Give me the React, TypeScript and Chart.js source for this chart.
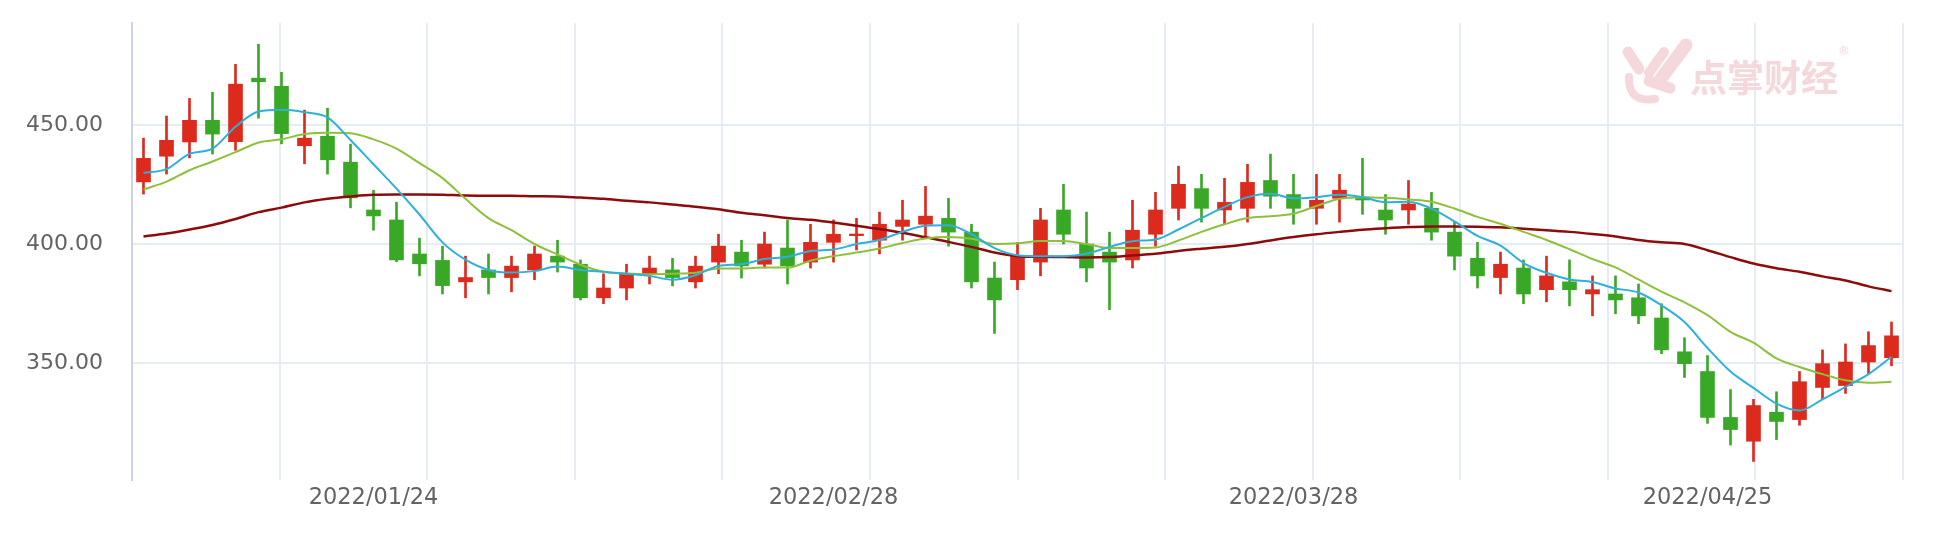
import React, { useEffect, useRef } from 'react';
import { Chart, registerables } from 'chart.js';

Chart.register(...registerables);

const dates = [
  '2022/01/10', '2022/01/11', '2022/01/12', '2022/01/13', '2022/01/14',
  '2022/01/17', '2022/01/18', '2022/01/19', '2022/01/20', '2022/01/21',
  '2022/01/24', '2022/01/25', '2022/01/26', '2022/01/27', '2022/01/28',
  '2022/02/07', '2022/02/08', '2022/02/09', '2022/02/10', '2022/02/11',
  '2022/02/14', '2022/02/15', '2022/02/16', '2022/02/17', '2022/02/18',
  '2022/02/21', '2022/02/22', '2022/02/23', '2022/02/24', '2022/02/25',
  '2022/02/28', '2022/03/01', '2022/03/02', '2022/03/03', '2022/03/04',
  '2022/03/07', '2022/03/08', '2022/03/09', '2022/03/10', '2022/03/11',
  '2022/03/14', '2022/03/15', '2022/03/16', '2022/03/17', '2022/03/18',
  '2022/03/21', '2022/03/22', '2022/03/23', '2022/03/24', '2022/03/25',
  '2022/03/28', '2022/03/29', '2022/03/30', '2022/03/31', '2022/04/01',
  '2022/04/06', '2022/04/07', '2022/04/08', '2022/04/11', '2022/04/12',
  '2022/04/13', '2022/04/14', '2022/04/15', '2022/04/18', '2022/04/19',
  '2022/04/20', '2022/04/21', '2022/04/22', '2022/04/25', '2022/04/26',
  '2022/04/27', '2022/04/28', '2022/04/29', '2022/05/05', '2022/05/06',
  '2022/05/09', '2022/05/10',
];

const xTickDates = ['2022/01/24', '2022/02/28', '2022/03/28', '2022/04/25'];

const opens = [
  426.1, 436.9, 442.9, 452.0, 443.0, 469.7, 466.3, 441.3, 445.3, 434.4,
  414.3, 410.1, 395.8, 393.1, 384.1, 389.1, 385.9, 389.1, 394.9, 391.5,
  377.4, 381.5, 387.5, 389.1, 384.1, 392.4, 396.6, 391.5, 398.3, 392.4,
  400.7, 403.5, 401.6, 407.4, 408.3, 410.8, 405.0, 385.7, 385.0, 392.4,
  414.3, 400.0, 396.6, 393.3, 404.1, 415.0, 423.3, 414.3, 415.0, 426.7,
  420.8, 415.0, 419.2, 419.7, 414.3, 414.3, 415.0, 405.0, 394.0, 385.9,
  389.9, 380.8, 384.1, 379.0, 379.0, 377.4, 368.9, 354.7, 346.4, 327.1,
  317.1, 329.3, 326.2, 339.7, 340.5, 350.4, 352.2,
];
const highs = [
  444.5, 453.8, 461.2, 463.8, 475.5, 484.0, 472.2, 456.3, 457.1, 442.0,
  422.6, 417.6, 402.5, 399.1, 394.9, 395.8, 394.9, 399.1, 401.6, 393.3,
  387.5, 391.5, 394.9, 394.0, 394.9, 404.1, 401.6, 405.0, 410.1, 408.3,
  410.1, 410.8, 413.4, 418.4, 424.2, 419.2, 408.3, 392.4, 400.7, 415.0,
  425.1, 413.4, 405.0, 418.4, 421.7, 432.7, 429.3, 427.6, 433.5, 437.8,
  429.3, 429.3, 429.3, 436.0, 420.8, 426.7, 421.7, 409.2, 400.7, 396.6,
  393.3, 394.9, 393.3, 386.6, 386.6, 383.2, 374.9, 360.6, 353.1, 338.8,
  334.7, 337.9, 346.4, 355.5, 358.0, 363.1, 367.2,
];
const lows = [
  421.0, 429.4, 436.2, 437.8, 439.4, 452.9, 442.1, 433.7, 429.4, 415.2,
  405.8, 392.6, 386.6, 379.0, 377.4, 379.0, 379.9, 385.0, 388.2, 376.5,
  374.9, 376.5, 383.2, 382.4, 381.5, 387.5, 385.7, 389.9, 383.2, 389.9,
  392.4, 397.5, 395.8, 401.6, 403.2, 399.1, 381.5, 362.4, 380.8, 386.6,
  400.0, 384.1, 372.4, 389.9, 399.1, 410.1, 409.2, 408.3, 409.2, 415.0,
  408.3, 408.3, 409.2, 412.5, 404.1, 408.3, 401.6, 389.1, 381.5, 379.0,
  374.9, 375.7, 374.0, 369.8, 370.7, 366.5, 353.9, 343.9, 324.6, 315.5,
  308.6, 317.8, 323.8, 334.7, 337.2, 345.5, 348.8,
];
const closes = [
  436.0, 443.6, 452.0, 446.2, 467.2, 468.2, 446.4, 444.5, 435.4, 419.4,
  411.8, 393.3, 391.7, 382.5, 385.9, 385.9, 390.7, 395.8, 392.4, 377.4,
  381.5, 387.5, 389.9, 385.9, 390.7, 399.1, 390.8, 400.0, 390.8, 400.7,
  404.1, 404.2, 408.3, 410.1, 411.7, 405.0, 384.1, 376.5, 394.9, 410.1,
  404.1, 389.9, 392.4, 405.8, 414.3, 425.1, 415.0, 417.5, 425.9, 420.1,
  415.0, 418.4, 422.6, 418.5, 410.1, 416.8, 405.0, 394.9, 386.6, 391.5,
  379.0, 386.6, 380.8, 380.8, 376.5, 369.8, 355.5, 349.7, 327.1, 322.0,
  332.1, 325.4, 342.1, 349.7, 350.4, 357.3, 361.4,
];

const ma5 = [
  429.9, 431.5, 437.9, 440.1, 449.3, 455.7, 456.4, 455.4, 453.2, 443.7,
  433.5, 423.3, 412.4, 400.7, 393.4, 389.1, 388.0, 388.6, 390.5, 389.1,
  388.3, 387.5, 386.6, 385.0, 386.9, 390.8, 391.5, 393.7, 394.6, 397.1,
  397.7, 400.0, 401.7, 405.1, 407.7, 407.9, 404.1, 398.3, 395.3, 394.9,
  394.9, 395.9, 398.8, 401.2, 401.9, 406.1, 410.9, 415.6, 419.7, 421.1,
  419.2, 419.7, 420.7, 419.7, 417.6, 417.8, 414.9, 409.5, 403.4, 399.3,
  392.0, 387.9, 385.1, 384.0, 381.3, 379.6, 374.2, 367.2, 356.3, 346.4,
  339.5, 332.9, 330.0, 334.7, 339.9, 345.3, 352.6,
];
const ma10 = [
  422.9, 426.2, 431.0, 434.7, 438.6, 442.7, 444.0, 446.2, 446.8, 446.6,
  444.0, 440.1, 434.0, 427.7, 419.0, 410.9, 405.8, 400.0, 395.6, 391.3,
  388.3, 387.6, 387.3, 387.5, 387.9, 389.7, 389.7, 390.1, 390.1, 393.0,
  394.9, 396.4, 398.1, 400.4, 402.3, 402.9, 402.2, 400.0, 400.3, 401.3,
  401.3, 400.0, 398.3, 398.3, 398.5, 401.5, 405.1, 408.3, 410.9, 411.7,
  412.7, 416.0, 419.0, 419.7, 419.4, 418.7, 417.8, 414.9, 411.4, 408.5,
  405.1, 401.7, 397.8, 393.7, 390.2, 385.1, 380.0, 375.5, 370.1, 363.1,
  358.5, 351.9, 348.3, 345.3, 342.7, 341.7, 342.1,
];
const ma60 = [
  403.2, 404.4, 406.1, 408.0, 410.5, 413.4, 415.3, 417.5, 419.0, 420.0,
  420.7, 420.8, 420.8, 420.7, 420.4, 420.3, 420.3, 420.1, 420.0, 419.5,
  419.0, 418.2, 417.5, 416.6, 415.7, 414.6, 413.1, 412.1, 410.9, 410.2,
  409.0, 407.7, 406.3, 404.7, 402.8, 400.9, 398.8, 396.4, 394.9, 394.6,
  394.5, 394.3, 394.5, 395.2, 395.9, 397.1, 398.0, 398.8, 400.0, 401.5,
  402.9, 404.1, 405.1, 406.0, 406.6, 407.1, 407.4, 407.4, 407.3, 407.0,
  406.4, 405.8, 405.1, 404.2, 403.2, 401.7, 400.7, 400.0, 397.4, 394.5,
  391.8, 389.8, 388.3, 386.4, 384.7, 382.2, 380.2,
];

const yTicks = [350, 400, 450];
const yMin = 300.8;
const yMax = 492.9;
const gridColumns = 12;

const UP = '#dc2a1d';
const DOWN = '#3aa827';
const GRID = '#e6ecf3';
const TEXT = '#636363';
const WM = '#f5d8db';

const watermark = {
  id: 'watermark',
  beforeDatasetsDraw(chart: any) {
    const ctx = chart.ctx;
    ctx.save();
    ctx.strokeStyle = WM;
    ctx.lineCap = 'round';
    const seg = (x1: number, y1: number, x2: number, y2: number, w: number) => {
      ctx.lineWidth = w;
      ctx.beginPath();
      ctx.moveTo(x1, y1);
      ctx.lineTo(x2, y2);
      ctx.stroke();
    };
    seg(1686, 45, 1660, 80, 13);
    seg(1664, 52, 1649, 73, 10);
    seg(1628, 52, 1639, 69, 11);
    seg(1649, 81, 1670, 88, 11);
    ctx.lineWidth = 8;
    ctx.beginPath();
    ctx.moveTo(1629, 77);
    ctx.quadraticCurveTo(1628, 103, 1655, 99);
    ctx.stroke();
    ctx.fillStyle = WM;
    ctx.font = 'bold 37px "Noto Sans CJK SC"';
    ctx.textAlign = 'left';
    ctx.textBaseline = 'middle';
    ctx.fillText('点掌财经', 1690, 78);
    ctx.font = '12px "DejaVu Sans"';
    ctx.fillText('®', 1838, 52);
    ctx.restore();
  },
};

export default function App() {
  const ref = useRef<HTMLCanvasElement | null>(null);

  useEffect(() => {
    if (!ref.current) return;
    const colors = closes.map((c, i) => (c >= opens[i] ? UP : DOWN));
    const chart = new Chart(ref.current, {
      type: 'bar',
      data: {
        labels: dates,
        datasets: [
          {
            type: 'line',
            label: 'MA5',
            data: ma5,
            borderColor: '#2eb0d8',
            borderWidth: 2,
            pointRadius: 0,
            cubicInterpolationMode: 'monotone',
            fill: false,
            order: 0,
          } as any,
          {
            type: 'line',
            label: 'MA10',
            data: ma10,
            borderColor: '#8fc03c',
            borderWidth: 2,
            pointRadius: 0,
            cubicInterpolationMode: 'monotone',
            fill: false,
            order: 0,
          } as any,
          {
            type: 'line',
            label: 'MA60',
            data: ma60,
            borderColor: '#8c0c0c',
            borderWidth: 2.5,
            pointRadius: 0,
            cubicInterpolationMode: 'monotone',
            fill: false,
            order: 0,
          } as any,
          {
            type: 'bar',
            label: 'body',
            data: opens.map((o, i) => [o, closes[i]]),
            backgroundColor: colors,
            borderWidth: 0,
            borderSkipped: false,
            barThickness: 14,
            grouped: false,
            order: 1,
          } as any,
          {
            type: 'bar',
            label: 'wick',
            data: lows.map((l, i) => [l, highs[i]]),
            backgroundColor: colors,
            borderWidth: 0,
            borderSkipped: false,
            barThickness: 2,
            grouped: false,
            order: 2,
          } as any,
        ],
      },
      options: {
        responsive: false,
        animation: false,
        layout: { padding: { top: 23, right: 31, left: 0, bottom: 0 } },
        plugins: {
          legend: { display: false },
          tooltip: { enabled: false },
        },
        scales: {
          x: {
            type: 'category',
            offset: true,
            grid: { display: false, drawTicks: false },
            border: { display: false },
            ticks: {
              autoSkip: false,
              maxRotation: 0,
              minRotation: 0,
              padding: 5,
              color: TEXT,
              font: { family: 'DejaVu Sans', size: 22.5 },
              callback: (_v: any, i: number) => (xTickDates.includes(dates[i]) ? dates[i] : ''),
            },
            afterFit: (s: any) => {
              s.height = 64;
              s.paddingLeft = 0;
              s.paddingRight = 0;
            },
          },
          x2: {
            type: 'linear',
            position: 'top',
            min: 0,
            max: gridColumns,
            offset: false,
            ticks: { display: false, stepSize: 1 },
            grid: { color: GRID, lineWidth: 2, drawTicks: false, offset: false },
            border: { display: false },
            afterFit: (s: any) => {
              s.height = 0;
              s.paddingLeft = 0;
              s.paddingRight = 0;
            },
          },
          y: {
            type: 'linear',
            min: yMin,
            max: yMax,
            grid: { color: GRID, lineWidth: 2, drawTicks: false },
            border: { display: true, color: '#c9d4ea', width: 2 },
            afterBuildTicks: (s: any) => {
              s.ticks = yTicks.map((v) => ({ value: v }));
            },
            ticks: {
              padding: 29,
              color: TEXT,
              font: { family: 'DejaVu Sans', size: 22 },
              callback: (v: any) => Number(v).toFixed(2),
            },
            afterFit: (s: any) => {
              s.width = 132;
              s.paddingTop = 0;
              s.paddingBottom = 0;
            },
          },
        },
      } as any,
      plugins: [watermark],
    });
    return () => chart.destroy();
  }, []);

  return (
    <div style={{ position: 'fixed', left: 0, top: 0, width: 1934, height: 544, background: '#fff' }}>
      <canvas ref={ref} width={1934} height={544} style={{ display: 'block', width: 1934, height: 544 }} />
    </div>
  );
}
